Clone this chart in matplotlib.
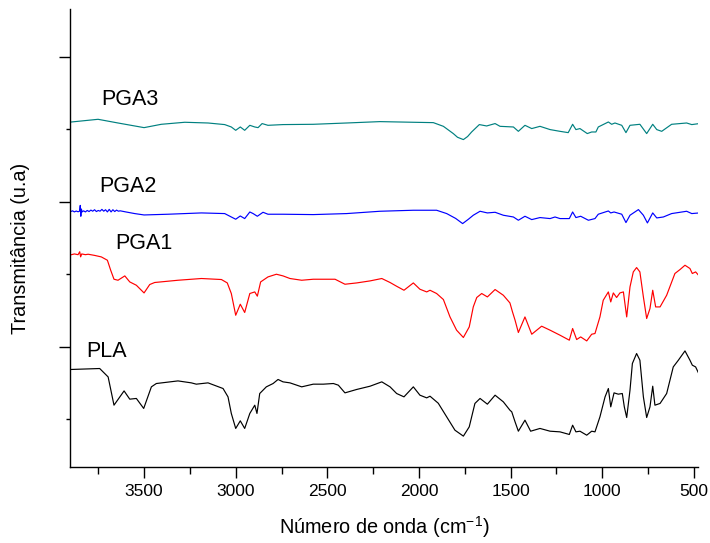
import matplotlib
matplotlib.use("Agg")
import matplotlib.pyplot as plt
from matplotlib.ticker import MultipleLocator

plt.rcParams['font.family'] = ['Liberation Sans', 'DejaVu Sans']
plt.rcParams['mathtext.fontset'] = 'custom'
plt.rcParams['mathtext.rm'] = 'Liberation Sans'
plt.rcParams['mathtext.it'] = 'Liberation Sans'

# ---- data (wavenumber cm-1, transmittance in arbitrary offset units) ----
pla_wn = [3896, 3742, 3696, 3664, 3609, 3578, 3542, 3502, 3460, 3433, 3315, 3242, 3215, 3151, 3069, 3042,
          3024, 3000, 2975, 2951, 2923, 2896, 2884, 2869, 2833, 2796, 2769, 2742, 2704, 2640, 2577, 2522,
          2467, 2440, 2404, 2340, 2267, 2203, 2158, 2122, 2082, 2031, 1995, 1958, 1940, 1895, 1849, 1804,
          1758, 1726, 1695, 1667, 1627, 1585, 1540, 1504, 1494, 1476, 1458, 1422, 1391, 1340, 1285, 1231,
          1180, 1162, 1144, 1122, 1085, 1058, 1040, 1013, 985, 967, 954, 936, 913, 891, 880, 867, 849, 836,
          813, 795, 776, 758, 740, 725, 713, 685, 649, 613, 585, 549, 522, 509, 491, 467]
pla_t = [0.686, 0.699, 0.583, 0.193, 0.390, 0.276, 0.286, 0.148, 0.446, 0.492, 0.528, 0.501, 0.483, 0.501,
         0.423, 0.308, 0.079, -0.128, -0.023, -0.128, 0.079, 0.193, 0.079, 0.354, 0.446, 0.492, 0.548, 0.515,
         0.501, 0.446, 0.483, 0.483, 0.492, 0.469, 0.363, 0.410, 0.455, 0.515, 0.446, 0.354, 0.308, 0.446,
         0.331, 0.294, 0.317, 0.220, 0.032, -0.152, -0.234, -0.106, 0.217, 0.286, 0.207, 0.331, 0.239, 0.124,
         0.101, -0.037, -0.166, -0.014, -0.166, -0.128, -0.166, -0.175, -0.211, -0.083, -0.175, -0.166,
         -0.221, -0.166, -0.175, 0.032, 0.308, 0.423, 0.170, 0.363, 0.345, 0.354, 0.170, 0.023, 0.400, 0.768,
         0.906, 0.814, 0.308, 0.023, 0.170, 0.455, 0.193, 0.217, 0.354, 0.721, 0.814, 0.942, 0.814, 0.745,
         0.721, 0.593]

pga1_wn = [3896, 3880, 3860, 3851, 3846, 3840, 3820, 3805, 3770, 3733, 3700, 3682, 3664, 3642, 3605, 3578,
           3542, 3500, 3469, 3442, 3315, 3187, 3078, 3046, 3024, 3000, 2975, 2951, 2923, 2896, 2882, 2864,
           2824, 2778, 2742, 2704, 2640, 2577, 2458, 2404, 2340, 2267, 2203, 2158, 2122, 2082, 2031, 1995,
           1958, 1940, 1904, 1867, 1831, 1795, 1758, 1726, 1704, 1685, 1658, 1627, 1585, 1540, 1504, 1490,
           1476, 1458, 1422, 1385, 1331, 1285, 1231, 1180, 1162, 1140, 1118, 1085, 1058, 1040, 1013, 995,
           967, 954, 940, 922, 904, 885, 867, 849, 831, 813, 795, 776, 758, 740, 725, 709, 685, 649, 604,
           576, 549, 522, 509, 491, 467]
pga1_t = [2.27, 2.28, 2.27, 2.31, 2.24, 2.28, 2.27, 2.276, 2.26, 2.239, 2.193, 2.055, 1.931, 1.917, 1.977,
          1.894, 1.848, 1.742, 1.858, 1.886, 1.917, 1.941, 1.927, 1.880, 1.734, 1.434, 1.586, 1.472, 1.734,
          1.756, 1.697, 1.894, 1.963, 2.0, 1.977, 1.941, 1.917, 1.931, 1.931, 1.862, 1.880, 1.908, 1.941,
          1.886, 1.834, 1.779, 1.880, 1.793, 1.756, 1.779, 1.734, 1.651, 1.411, 1.228, 1.127, 1.273, 1.549,
          1.679, 1.734, 1.687, 1.789, 1.710, 1.604, 1.480, 1.366, 1.196, 1.411, 1.172, 1.283, 1.228, 1.159,
          1.090, 1.251, 1.099, 1.135, 1.080, 1.172, 1.182, 1.411, 1.641, 1.756, 1.618, 1.742, 1.679, 1.742,
          1.756, 1.411, 1.825, 2.032, 2.092, 2.032, 1.687, 1.389, 1.527, 1.779, 1.549, 1.549, 1.710, 2.010,
          2.065, 2.124, 2.079, 2.010, 2.032, 1.963]

pga2_wn = [3900, 3890, 3880, 3870, 3860, 3852, 3848, 3845, 3842, 3838, 3830, 3820, 3810, 3800, 3790, 3780,
           3770, 3760, 3750, 3740, 3730, 3720, 3710, 3700, 3690, 3680, 3670, 3660, 3650, 3640, 3630, 3600,
           3551, 3500, 3369, 3187, 3060, 3024, 3000, 2975, 2951, 2923, 2905, 2882, 2851, 2824, 2742, 2577,
           2395, 2213, 2031, 1904, 1849, 1800, 1762, 1730, 1704, 1667, 1627, 1585, 1540, 1485, 1458, 1422,
           1385, 1340, 1285, 1258, 1231, 1180, 1162, 1144, 1118, 1076, 1040, 1022, 967, 954, 936, 894, 871,
           849, 803, 776, 754, 725, 703, 667, 622, 540, 512, 471]
pga2_t = [2.865, 2.875, 2.860, 2.872, 2.862, 2.870, 2.950, 2.800, 2.900, 2.860, 2.875, 2.860, 2.880, 2.865,
          2.885, 2.870, 2.890, 2.865, 2.880, 2.870, 2.895, 2.870, 2.890, 2.860, 2.895, 2.860, 2.890, 2.865,
          2.885, 2.870, 2.875, 2.860, 2.837, 2.818, 2.828, 2.846, 2.837, 2.790, 2.759, 2.804, 2.768, 2.859,
          2.837, 2.800, 2.855, 2.828, 2.828, 2.823, 2.837, 2.869, 2.883, 2.883, 2.837, 2.770, 2.699, 2.760,
          2.814, 2.869, 2.846, 2.855, 2.814, 2.790, 2.745, 2.800, 2.754, 2.782, 2.768, 2.790, 2.768, 2.768,
          2.859, 2.782, 2.800, 2.745, 2.768, 2.828, 2.873, 2.846, 2.859, 2.828, 2.713, 2.814, 2.892, 2.814,
          2.708, 2.846, 2.777, 2.790, 2.837, 2.869, 2.837, 2.846]

pga3_wn = [3896, 3751, 3642, 3500, 3406, 3278, 3151, 3060, 3024, 3000, 2975, 2951, 2923, 2896, 2878, 2856,
           2824, 2742, 2577, 2395, 2213, 2031, 1922, 1867, 1813, 1790, 1758, 1735, 1713, 1671, 1631, 1585,
           1558, 1485, 1458, 1422, 1385, 1340, 1285, 1231, 1186, 1162, 1144, 1122, 1082, 1058, 1035, 1022,
           967, 949, 931, 894, 871, 849, 795, 758, 725, 703, 676, 622, 540, 512, 471]
pga3_t = [4.101, 4.138, 4.087, 4.023, 4.069, 4.097, 4.087, 4.065, 4.032, 3.986, 4.032, 3.986, 4.055, 4.032,
          4.023, 4.079, 4.055, 4.065, 4.069, 4.087, 4.106, 4.097, 4.092, 4.041, 3.941, 3.890, 3.858, 3.900,
          3.963, 4.065, 4.046, 4.079, 4.041, 4.032, 3.972, 4.055, 4.010, 4.041, 3.996, 3.972, 3.954, 4.069,
          3.996, 4.010, 3.941, 3.963, 3.963, 4.032, 4.101, 4.069, 4.087, 4.055, 3.954, 4.055, 4.069, 3.941,
          4.069, 3.996, 3.972, 4.069, 4.087, 4.065, 4.079]

labels = ["PLA", "PGA1", "PGA2", "PGA3"]
label_wn = [3816, 3658, 3745, 3735]
label_t = [0.938, 2.428, 3.214, 4.414]
colors = ["black", "#ff0000", "#0000ff", "#008080"]

x_ticks = [3500, 3000, 2500, 2000, 1500, 1000, 500]

# ---- figure ----
fig = plt.figure(figsize=(7.10, 5.43), dpi=100)
ax = fig.add_axes([70/710, 76/543, 628/710, 458/543])

series = [(pla_wn, pla_t), (pga1_wn, pga1_t), (pga2_wn, pga2_t), (pga3_wn, pga3_t)]
for (wn, t), c in zip(series, colors):
    ax.plot(wn, t, color=c, lw=0.85)

for lab, xw, yt in zip(labels, label_wn, label_t):
    ax.text(xw, yt, lab, fontsize=15.5, ha='left', va='center')

ax.set_xlim(3904, 478)
ax.set_ylim(-0.66, 5.66)
ax.set_xticks(x_ticks)
ax.xaxis.set_minor_locator(MultipleLocator(250))
ax.set_yticks([1, 3, 5])
ax.set_yticks([0, 2, 4], minor=True)
ax.set_yticklabels([])
ax.tick_params(axis='x', which='major', length=8, width=1.0, labelsize=12.5, pad=4)
ax.tick_params(axis='x', which='minor', length=5, width=1.0)
ax.tick_params(axis='y', which='major', length=8, width=1.0)
ax.tick_params(axis='y', which='minor', length=3, width=1.0)
for s in ['top', 'right']:
    ax.spines[s].set_visible(False)
for s in ['left', 'bottom']:
    ax.spines[s].set_linewidth(1.0)

ax.set_xlabel(r'Número de onda (cm$^{-1}$)', fontsize=14.3, labelpad=11)
ax.set_ylabel('Transmitância (u.a)', fontsize=14.3)
ax.yaxis.set_label_coords(-0.064, 0.478)

fig.savefig("out.png", dpi=100)
